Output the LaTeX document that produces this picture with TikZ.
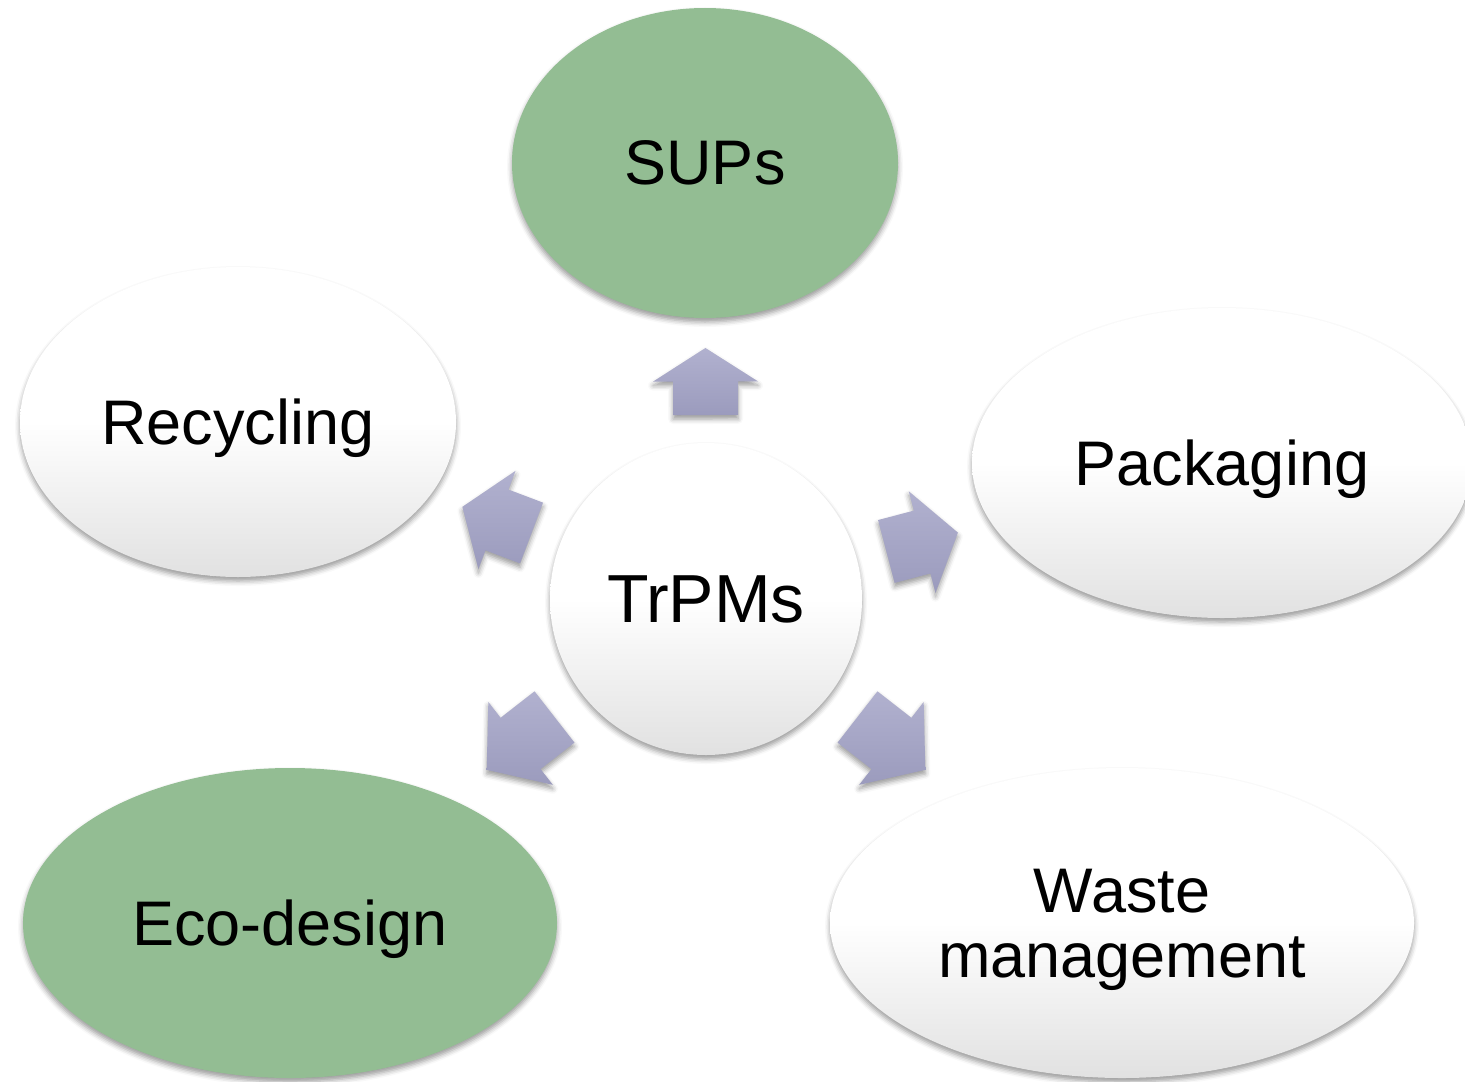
\documentclass[tikz,border=0pt]{standalone}
\usepackage{fontspec}
\setmainfont{Liberation Sans}
\usetikzlibrary{calc,shapes.geometric,shadows.blur}

\definecolor{leaf}{HTML}{93BD93}
\definecolor{lilacTop}{HTML}{B1B1CF}
\definecolor{lilacBot}{HTML}{9B9BBD}
\definecolor{paleGrey}{HTML}{E1E1E1}

\tikzset{
  softshadow/.style={blur shadow={shadow xshift=0pt, shadow yshift=-2pt,
      shadow blur radius=2.5pt, shadow opacity=40}},
  bubble/.style={ellipse, inner sep=0pt, align=center, softshadow, text depth=0pt,
      font=\fontsize{31.5}{32.5}\selectfont},
  plainbubble/.style={bubble, top color=white, bottom color=paleGrey, middle color=white},
  leafbubble/.style={bubble, fill=leaf},
  blockarrow/.style={top color=lilacTop, bottom color=lilacBot, softshadow},
}

% block arrow pointing from the hub towards node #1;
% #2 = distance of the tail from the hub centre, #3 = half the arrow length
\newcommand\radialarrow[3]{%
  \path[blockarrow] let \p0=($(#1.center)-(hub.center)$), \n0={atan2(\y0,\x0)},
      \p1=($(hub.center)!#2!(#1.center)$) in
    ($(\p1)+({\n0+90}:16.25pt)$) -- ++(\n0:#3) -- ++({\n0+90}:10pt)
    -- ($(\p1)+(\n0:2*#3)$)
    -- ($(\p1)+(\n0:#3)+({\n0-90}:26.25pt)$) -- ++({\n0+90}:10pt)
    -- ($(\p1)+({\n0-90}:16.25pt)$) -- cycle;
}

\begin{document}
\begin{tikzpicture}[x=0.5pt, y=-0.5pt]
  \useasboundingbox (0,0) rectangle (1465,1081);

  % hub
  \node[plainbubble, circle, minimum size=156pt, font=\fontsize{34}{36}\selectfont]
    (hub) at (706,599) {TrPMs};

  % satellites
  \node[leafbubble,  minimum width=193pt, minimum height=155pt] (sups)  at (705,163)  {SUPs};
  \node[plainbubble, minimum width=218pt, minimum height=155pt] (recyc) at (238,422)  {Recycling};
  \node[plainbubble, minimum width=250pt, minimum height=155pt] (pack)  at (1222,463) {Packaging};
  \node[leafbubble,  minimum width=267pt, minimum height=155pt] (eco)   at (290,923)  {Eco-design};
  \node[plainbubble, minimum width=292pt, minimum height=155pt] (waste) at (1122,923) {Waste\\management};

  % arrows radiating from the hub
  \radialarrow{sups}{92pt}{16.75pt}
  \radialarrow{recyc}{93.25pt}{18.5pt}
  \radialarrow{pack}{93.25pt}{18.5pt}
  \radialarrow{eco}{96pt}{21.5pt}
  \radialarrow{waste}{96pt}{21.5pt}
\end{tikzpicture}
\end{document}
